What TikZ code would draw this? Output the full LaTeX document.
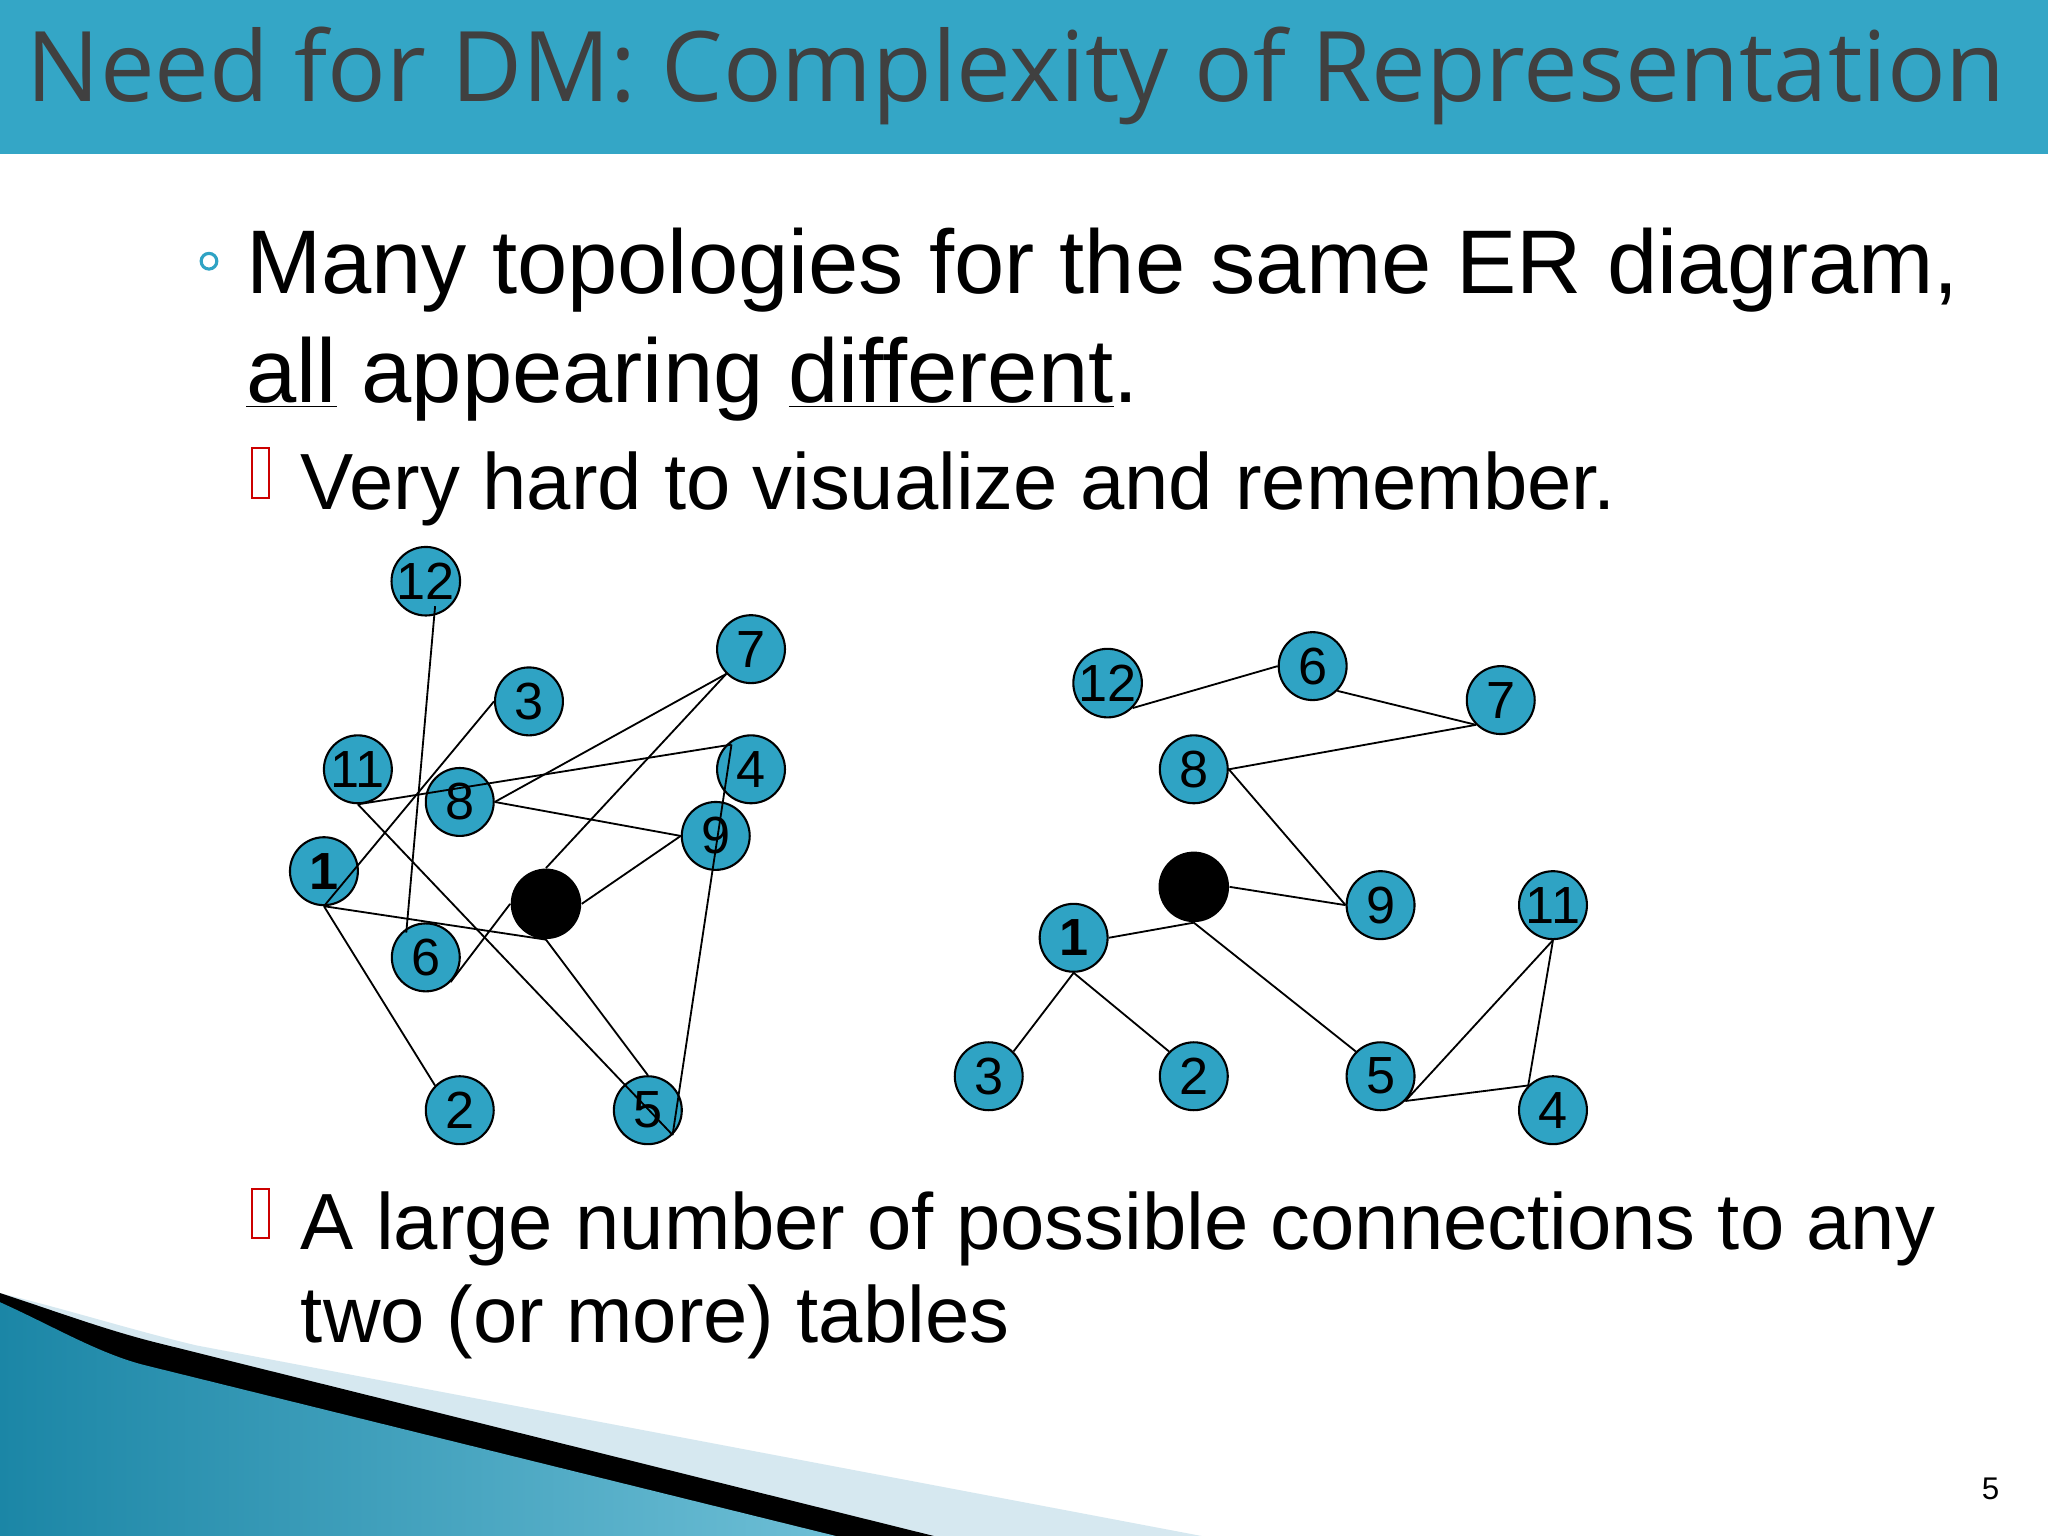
\documentclass[tikz,border=0pt]{standalone}
\usepackage{fontspec}
\setmainfont{Liberation Sans}
\newfontfamily\titlefont{Open Sans}
\begin{document}
\begin{tikzpicture}[x=0.5pt,y=-0.5pt,
  vtx/.style={circle,draw=black,line width=0.8pt,fill=teal0,minimum size=26pt,inner sep=0pt,font=\fontsize{20}{20}\selectfont},
  hub/.style={circle,fill=black,minimum size=27pt,inner sep=0pt},
  edge/.style={line width=0.7pt},
  body/.style={anchor=base west,inner sep=0pt,font=\fontsize{34.6}{35}\selectfont},
  sub/.style={anchor=base west,inner sep=0pt,font=\fontsize{30.5}{31}\selectfont}]
\definecolor{teal0}{HTML}{2FA3C4}
\definecolor{bar}{HTML}{34A6C6}
\definecolor{deep}{HTML}{1B86A6}
\definecolor{pale}{HTML}{D6E8F0}
\useasboundingbox (0,0) rectangle (1568,1176);
\fill[white] (0,0) rectangle (1568,1176);
% title bar
\fill[bar] (0,0) rectangle (1568,118);
\node[anchor=base west,inner sep=0pt,text=black!75,font=\titlefont\fontsize{37.3}{38}\selectfont] (title) at (20,78) {Need for DM: Complexity of Representation};
% bottom decoration
\fill[pale] (0,990) .. controls (60,1005) and (100,1018) .. (150,1030) -- (920,1176) -- (0,1176) -- cycle;
\fill[black] (0,990) .. controls (40,1003) and (80,1018) .. (120,1028) -- (715,1176) -- (0,1176) -- cycle;
\shade[left color=deep,right color=teal0!70] (0,997) .. controls (40,1015) and (75,1036) .. (110,1045) -- (640,1176) -- (0,1176) -- cycle;
% texts
\draw[teal0,line width=1.2pt] (160,200) circle (6);
\node[body] (t1) at (188,225) {Many topologies for the same ER diagram,};
\node[body] (t2) at (188,308) {\underline{all} appearing \underline{different}.};
\draw[red!80!black,line width=0.8pt] (193,343) rectangle (206,381);
\node[sub] (t3) at (230,390) {Very hard to visualize and remember.};
\draw[red!80!black,line width=0.8pt] (193,910) rectangle (206,948);
\node[sub] (t4) at (230,957) {A large number of possible connections to any};
\node[sub] (t5) at (230,1028) {two (or more) tables};
\node[anchor=base,inner sep=0pt,font=\fontsize{12}{12}\selectfont] (pg) at (1524,1148) {5};
% left graph
\node[vtx] (a12) at (326,445) {12};
\node[vtx] (a3) at (405,537) {3};
\node[vtx] (a7) at (575,497) {7};
\node[vtx] (a11) at (274,589) {11};
\node[vtx] (a8) at (352,614) {8};
\node[vtx] (a4) at (575,589) {4};
\node[vtx] (a9) at (548,640) {9};
\node[vtx] (a1) at (248,667) {\textbf{1}};
\node[hub] (ah) at (418,692) {};
\node[vtx] (a6) at (326,733) {6};
\node[vtx] (a2) at (352,850) {2};
\node[vtx] (a5) at (496,850) {5};
\begin{scope}[edge]
\draw ([xshift=-6pt]a12.south east) -- ([xshift=2pt]a6.north west);
\draw (a3.west) -- (a1.south);
\draw (a7.south west) -- (a8.east);
\draw (a7.south west) -- (ah.north);
\draw (a11.south) -- ([xshift=2pt]a4.north west);
\draw (a11.south) -- (a5.south east);
\draw (a8.east) -- (a9.west);
\draw (ah.east) -- (a9.west);
\draw (a1.south) -- (ah.south);
\draw (ah.west) -- (a6.south east);
\draw (ah.south) -- (a5.north);
\draw (a1.south) -- (a2.north west);
\draw ([xshift=2pt]a4.north west) -- (a5.south east);
\end{scope}
% right graph
\node[vtx] (b12) at (848,523) {12};
\node[vtx] (b6) at (1005,510) {6};
\node[vtx] (b7) at (1149,536) {7};
\node[vtx] (b8) at (914,589) {8};
\node[hub] (bh) at (914,679) {};
\node[vtx] (b9) at (1057,693) {9};
\node[vtx] (b11) at (1189,693) {11};
\node[vtx] (b1) at (822,718) {\textbf{1}};
\node[vtx] (b3) at (757,824) {3};
\node[vtx] (b2) at (914,824) {2};
\node[vtx] (b5) at (1057,824) {5};
\node[vtx] (b4) at (1189,850) {4};
\begin{scope}[edge]
\draw (b12.south east) -- (b6.west);
\draw (b6.south east) -- (b7.south west);
\draw (b7.south west) -- (b8.east);
\draw (b8.east) -- (b9.west);
\draw (bh.east) -- (b9.west);
\draw (bh.south) -- (b1.east);
\draw (bh.south) -- (b5.north west);
\draw (b1.south) -- (b3.north east);
\draw (b1.south) -- (b2.north west);
\draw (b5.south east) -- (b11.south);
\draw (b11.south) -- (b4.north west);
\draw (b5.south east) -- (b4.north west);
\end{scope}
\end{tikzpicture}
\end{document}
